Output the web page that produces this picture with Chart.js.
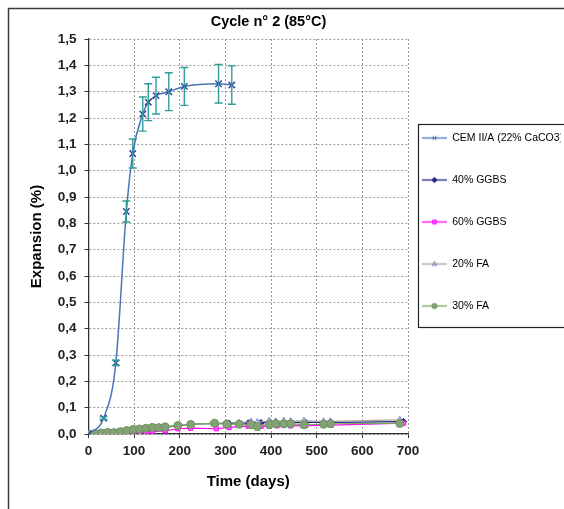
<!DOCTYPE html>
<html>
<head>
<meta charset="utf-8">
<script src="https://cdn.jsdelivr.net/npm/chart.js"></script>
<style>
  body { margin: 0; background: #fff; }
  canvas { display: block; }
</style>
</head>
<body>
<canvas id="cycle2" width="564" height="509"></canvas>
<script>
// CEM II/A (22% CaCO3)
const cemDays = [0, 33, 60, 83, 97, 119, 131, 148, 176, 210, 285, 314]
const cemExp = [0, 0.06, 0.27, 0.845, 1.065, 1.215, 1.26, 1.285, 1.30, 1.32, 1.33, 1.325]
const cemErr = [0, 0.005, 0.01, 0.04, 0.055, 0.065, 0.07, 0.07, 0.072, 0.072, 0.073, 0.073]

// GGBS
const ggbsDays = [0, 14, 28, 42, 56, 70, 84, 98, 112, 126, 140, 168, 196, 224, 280, 308, 350, 378, 396, 413, 443, 476, 532, 690]
const ggbs40 = [0, 0.002, 0.003, 0.004, 0.006, 0.009, 0.012, 0.015, 0.018, 0.02, 0.022, 0.026, 0.031, 0.038, 0.039, 0.041, 0.042, 0.043, 0.044, 0.042, 0.043, 0.044, 0.044, 0.047]
const ggbs60 = [0, 0, 0.001, 0.001, 0.002, 0.003, 0.004, 0.005, 0.006, 0.008, 0.009, 0.012, 0.02, 0.022, 0.02, 0.025, 0.03, 0.029, 0.03, 0.031, 0.031, 0.032, 0.034, 0.041]

// FA
const faDays = [0, 14, 28, 42, 56, 70, 84, 98, 112, 126, 140, 154, 168, 196, 224, 276, 303, 330, 356, 370, 396, 410, 428, 443, 472, 515, 530, 682]
const fa20 = [0, 0.003, 0.005, 0.007, 0.008, 0.01, 0.014, 0.018, 0.021, 0.024, 0.026, 0.027, 0.029, 0.033, 0.037, 0.04, 0.042, 0.043, 0.047, 0.045, 0.05, 0.048, 0.05, 0.049, 0.05, 0.048, 0.048, 0.054]
const fa30 = [0, 0.002, 0.004, 0.006, 0.005, 0.009, 0.013, 0.017, 0.019, 0.022, 0.025, 0.024, 0.027, 0.032, 0.036, 0.041, 0.037, 0.037, 0.035, 0.028, 0.036, 0.039, 0.038, 0.039, 0.035, 0.037, 0.039, 0.04]

const xTicks = [0, 100, 200, 300, 400, 500, 600, 700]

const police = "'Liberation Sans', Arial, sans-serif"

const points = (xs, ys) => xs.map((x, i) => ({ x: x, y: ys[i] }))

const datasets = [{
    label: 'CEM II/A (22% CaCO3)',
    data: points(cemDays, cemExp),
    order: 0,
    borderColor: '#4a76b8',
    borderWidth: 1.5,
    pointStyle: 'crossRot',
    pointRadius: 4.5,
    pointBorderColor: '#34479c',
    pointBackgroundColor: '#34479c',
    pointBorderWidth: 1.5,
    cubicInterpolationMode: 'monotone'
}, {
    label: '40% GGBS',
    data: points(ggbsDays, ggbs40),
    order: 4,
    borderColor: '#1f1f7a',
    borderWidth: 1.2,
    pointStyle: 'rectRot',
    pointRadius: 3.2,
    pointBorderColor: '#1f1f7a',
    pointBackgroundColor: '#1f1f7a',
    pointBorderWidth: 1
}, {
    label: '60% GGBS',
    data: points(ggbsDays, ggbs60),
    order: 3,
    borderColor: '#ff00ff',
    borderWidth: 1.2,
    pointStyle: 'rect',
    pointRadius: 3,
    pointBorderColor: '#ff00ff',
    pointBackgroundColor: '#ff66ff',
    pointBorderWidth: 1
}, {
    label: '20% FA',
    data: points(faDays, fa20),
    order: 2,
    borderColor: '#a6a6a6',
    borderWidth: 1.2,
    pointStyle: 'triangle',
    pointRadius: 3.5,
    pointBorderColor: '#6f80b0',
    pointBackgroundColor: '#c9cfe0',
    pointBorderWidth: 1
}, {
    label: '30% FA',
    data: points(faDays, fa30),
    order: 1,
    borderColor: '#77a55b',
    borderWidth: 1.2,
    pointStyle: 'circle',
    pointRadius: 4,
    pointBorderColor: '#6f9160',
    pointBackgroundColor: '#85a276',
    pointBorderWidth: 1
}]

// petite icone ligne + marqueur pour la légende
function iconeLegende(ds) {
    const c = document.createElement('canvas')
    c.width = 25
    c.height = 11
    const g = c.getContext('2d')
    g.strokeStyle = ds.borderColor
    g.lineWidth = 1.3
    g.beginPath()
    g.moveTo(0, 5.5)
    g.lineTo(25, 5.5)
    g.stroke()
    g.fillStyle = ds.pointBackgroundColor
    g.strokeStyle = ds.pointBorderColor
    g.lineWidth = 1
    Chart.helpers.drawPoint(g, { pointStyle: ds.pointStyle, radius: 2.6, borderWidth: 1, rotation: 0 }, 12.5, 5.5)
    return c
}
const icones = datasets.map(iconeLegende)

const LEGEND_PAD = 31.5

const legendPlacement = {
    id: 'legendPlacement',
    beforeInit(chart) {
        const lg = chart.legend
        const fitOrig = lg.fit
        lg.fit = function () {
            fitOrig.call(this)
            this.width = 106
        }
    },
    afterLayout(chart) {
        const lg = chart.legend
        lg.left = 390.5
        lg.right = lg.left + 170
        lg.top = 101.25
        lg.bottom = 480
    }
}

const cadre = {
    id: 'cadre',
    beforeDraw(chart) {
        const c = chart.ctx
        c.save()
        c.fillStyle = '#fff'
        c.fillRect(0, 0, chart.width, chart.height)
        c.strokeStyle = '#3a3a3a'
        c.lineWidth = 1.5
        c.strokeRect(8.5, 8.5, 700, 700)
        c.restore()
    },
    afterDraw(chart) {
        const lg = chart.legend
        const c = chart.ctx
        const x0 = Math.round(lg.left + LEGEND_PAD - 4) + 0.5
        const y0 = Math.round(lg.top + LEGEND_PAD - 8.75) + 0.5
        c.save()
        c.strokeStyle = '#222'
        c.lineWidth = 1.2
        c.strokeRect(x0, y0, 300, 203)
        c.restore()
    }
}

const barresErreur = {
    id: 'barresErreur',
    afterDatasetsDraw(chart) {
        const c = chart.ctx
        const xs = chart.scales.x
        const ys = chart.scales.y
        c.save()
        c.strokeStyle = '#2f9e9a'
        c.lineWidth = 1.4
        cemDays.forEach((d, i) => {
            const e = cemErr[i]
            if (!e) return
            const px = xs.getPixelForValue(d)
            const yh = ys.getPixelForValue(cemExp[i] + e)
            const yb = ys.getPixelForValue(cemExp[i] - e)
            c.beginPath()
            c.moveTo(px, yh)
            c.lineTo(px, yb)
            c.moveTo(px - 4, yh)
            c.lineTo(px + 4, yh)
            c.moveTo(px - 4, yb)
            c.lineTo(px + 4, yb)
            c.stroke()
        })
        c.restore()
    }
}

const config = {
    type: 'line',
    data: { datasets: datasets },
    options: {
        responsive: false,
        animation: false,
        layout: { padding: { left: 23, right: 50, top: 0, bottom: 14 } },
        plugins: {
            tooltip: { enabled: false },
            title: {
                display: true,
                text: 'Cycle n° 2 (85°C)',
                color: '#000',
                font: { family: police, size: 14.5, weight: 'bold' },
                padding: { top: 13.3, bottom: 8.3 }
            },
            legend: {
                position: 'right',
                align: 'start',
                labels: {
                    usePointStyle: true,
                    pointStyleWidth: 25,
                    padding: LEGEND_PAD,
                    color: '#000',
                    font: { family: police, size: 10.5 },
                    sort: (a, b) => a.datasetIndex - b.datasetIndex,
                    generateLabels(chart) {
                        const items = Chart.defaults.plugins.legend.labels.generateLabels(chart)
                        return items.map((it) => Object.assign(it, { pointStyle: icones[it.datasetIndex] }))
                    }
                }
            }
        },
        scales: {
            x: {
                type: 'linear',
                min: 0,
                max: 700,
                afterBuildTicks: (axis) => { axis.ticks = xTicks.map((v) => ({ value: v })) },
                ticks: {
                    color: '#222',
                    padding: 5,
                    font: { family: police, size: 13.5, weight: 'bold' }
                },
                title: {
                    display: true,
                    text: 'Time (days)',
                    color: '#000',
                    font: { family: police, size: 15, weight: 'bold' },
                    padding: { top: 8.8, bottom: 4 }
                },
                grid: {
                    color: '#9a9a9a',
                    tickLength: 4,
                    tickColor: '#333',
                    tickBorderDash: []
                },
                border: { color: '#333', width: 1.3, dash: [2, 2] }
            },
            y: {
                min: 0,
                max: 1.5,
                ticks: {
                    stepSize: 0.1,
                    color: '#222',
                    padding: 8,
                    font: { family: police, size: 13.5, weight: 'bold' },
                    callback: (v) => v.toFixed(1).replace('.', ',')
                },
                title: {
                    display: true,
                    text: 'Expansion (%)',
                    color: '#000',
                    font: { family: police, size: 15, weight: 'bold' },
                    padding: { top: 5, bottom: 3.7 }
                },
                grid: {
                    color: '#9a9a9a',
                    tickLength: 4,
                    tickColor: '#333',
                    tickBorderDash: []
                },
                border: { color: '#333', width: 1.3, dash: [2, 2] }
            }
        }
    },
    plugins: [legendPlacement, cadre, barresErreur]
}

const ctx = document.getElementById('cycle2')
new Chart(ctx, config)
</script>
</body>
</html>
